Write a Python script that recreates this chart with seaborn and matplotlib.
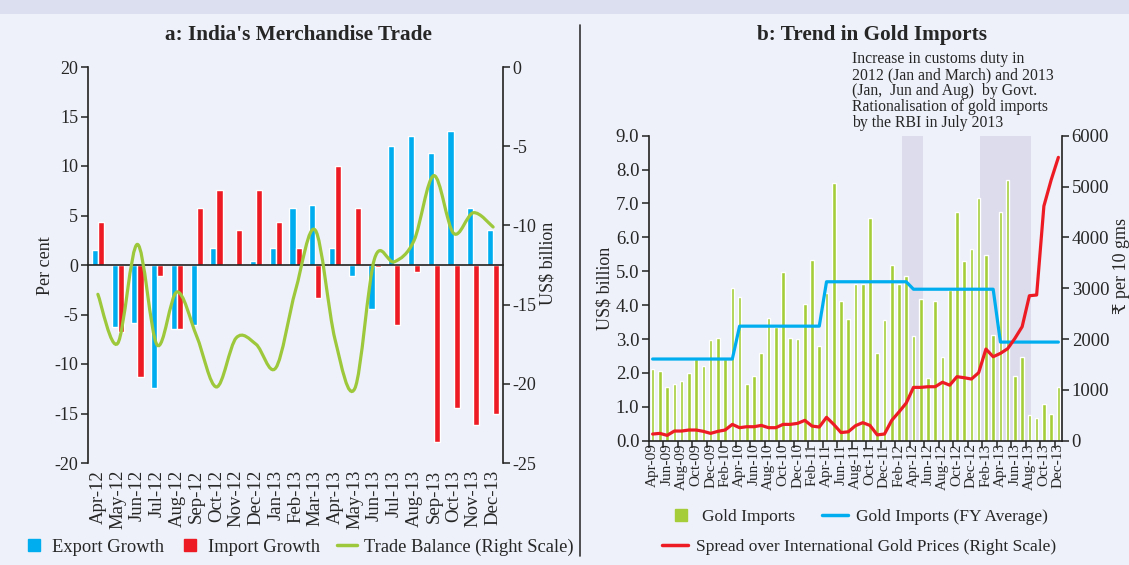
import numpy as np
import pandas as pd
import matplotlib
matplotlib.use("Agg")
import matplotlib.pyplot as plt
import seaborn as sns
from matplotlib.path import Path
from matplotlib.patches import PathPatch, Rectangle
from matplotlib.lines import Line2D

# Panel a: India's merchandise trade (growth in per cent, balance in US$ billion)
trade_months = ["Apr-12", "May-12", "Jun-12", "Jul-12", "Aug-12", "Sep-12", "Oct-12",
                "Nov-12", "Dec-12", "Jan-13", "Feb-13", "Mar-13", "Apr-13", "May-13",
                "Jun-13", "Jul-13", "Aug-13", "Sep-13", "Oct-13", "Nov-13", "Dec-13"]
export_growth = [1.5, -6.3, -5.9, -12.4, -6.5, -6.1, 1.7, 0.0, 0.4, 1.7, 5.8, 6.1,
                 1.7, -1.1, -4.4, 12.0, 13.05, 11.3, 13.5, 5.8, 3.5]
import_growth = [4.3, -6.8, -11.3, -1.1, -6.5, 5.8, 7.6, 3.5, 7.6, 4.3, 1.7, -3.3,
                 10.0, 5.8, -0.2, -6.1, -0.7, -17.9, -14.4, -16.2, -15.1]
trade_balance = [-14.35, -17.45, -11.2, -17.55, -14.2, -17.0, -20.2, -17.1, -17.5,
                 -19.0, -14.1, -10.3, -17.2, -20.3, -12.1, -12.3, -10.95, -6.86,
                 -10.5, -9.2, -10.1]

# Panel b: gold imports (US$ billion) and domestic spread (Rs per 10 gms)
gold_months = ["Apr-09", "May-09", "Jun-09", "Jul-09", "Aug-09", "Sep-09", "Oct-09", "Nov-09",
               "Dec-09", "Jan-10", "Feb-10", "Mar-10", "Apr-10", "May-10", "Jun-10", "Jul-10",
               "Aug-10", "Sep-10", "Oct-10", "Nov-10", "Dec-10", "Jan-11", "Feb-11", "Mar-11",
               "Apr-11", "May-11", "Jun-11", "Jul-11", "Aug-11", "Sep-11", "Oct-11", "Nov-11",
               "Dec-11", "Jan-12", "Feb-12", "Mar-12", "Apr-12", "May-12", "Jun-12", "Jul-12",
               "Aug-12", "Sep-12", "Oct-12", "Nov-12", "Dec-12", "Jan-13", "Feb-13", "Mar-13",
               "Apr-13", "May-13", "Jun-13", "Jul-13", "Aug-13", "Sep-13", "Oct-13", "Nov-13",
               "Dec-13"]
gold_imports = [2.13, 2.06, 1.59, 1.66, 1.75, 2.00, 2.40, 2.19, 2.97, 3.04, 2.40, 4.50,
                4.23, 1.66, 1.91, 2.60, 3.63, 3.36, 4.98, 3.03, 3.00, 4.04, 5.32, 2.78,
                4.35, 7.61, 4.13, 3.59, 4.63, 4.63, 6.57, 2.60, 3.56, 5.19, 4.63, 4.86,
                3.09, 4.18, 1.85, 4.12, 2.47, 4.44, 6.75, 5.31, 5.66, 7.16, 5.48, 3.12,
                6.75, 7.69, 1.91, 2.47, 0.75, 0.66, 1.09, 0.79, 1.59]
gold_fy_avg = ([2.41] * 12 + [3.38] * 12 + [4.69] * 12 + [4.47] * 12 + [2.91] * 9)
gold_spread = [131, 144, 105, 190, 190, 210, 210, 184, 144, 184, 210, 321,
               256, 275, 275, 301, 256, 256, 321, 321, 341, 400, 288, 269,
               460, 320, 160, 175, 295, 355, 300, 115, 131, 400, 565, 740,
               1049, 1049, 1062, 1062, 1150, 1092, 1259, 1239, 1213, 1338, 1803, 1652,
               1718, 1810, 2013, 2243, 2852, 2866, 4616, 5128, 5574]
# policy periods (shaded), in month positions
policy_spans = [(34.4, 37.3), (45.2, 52.2)]

BLUE = "#00aeef"
RED = "#ed1c24"
GREEN = "#a4cd39"
BG = "#eef1f9"

sns.set_theme(style="white")
plt.rcParams["font.family"] = ["Liberation Serif", "DejaVu Serif", "DejaVu Sans"]
plt.rcParams["axes.unicode_minus"] = False
plt.rcParams["axes.facecolor"] = BG
plt.rcParams["figure.facecolor"] = BG

fig = plt.figure(figsize=(11.29, 5.65), dpi=100)
W, H = 1129, 565


def fig_ax(l, t, r, b):
    return fig.add_axes([l / W, 1 - b / H, (r - l) / W, (b - t) / H])


def style_spines(a, width=1.2):
    for s in a.spines.values():
        s.set_color("#222222")
        s.set_linewidth(width)


# ---------------- panel a ----------------
ax = fig_ax(88, 67, 503, 463)
df_a = pd.DataFrame({
    "month": trade_months * 2,
    "series": ["Export Growth"] * len(trade_months) + ["Import Growth"] * len(trade_months),
    "value": export_growth + import_growth,
})
sns.barplot(data=df_a, x="month", y="value", hue="series", order=trade_months,
            palette={"Export Growth": BLUE, "Import Growth": RED},
            width=0.62, saturation=1, legend=False, ax=ax)
n_a = len(trade_months)
ax.set_xlim(-0.5, n_a - 0.5)
ax.set_ylim(-20, 20)
ax.set_yticks(np.arange(-20, 21, 5))
ax.set_xlabel("")
ax.set_ylabel("")
style_spines(ax)
ax.spines["top"].set_visible(False)
ax.spines["right"].set_visible(False)
ax.spines["bottom"].set_position(("data", 0))
ax.set_xticks(np.arange(n_a))
ax.set_xticks(np.arange(n_a - 1) + 0.5, minor=True)
ax.tick_params(axis="x", which="major", length=0, labelbottom=False)
ax.tick_params(axis="x", which="minor", length=5, width=1.1, direction="out", color="#222222")
ax.tick_params(axis="y", length=5, width=1.1, direction="out", left=True, labelsize=13,
               pad=2, color="#222222")

sec = ax.secondary_xaxis(0.0)
sec.set_xticks(np.arange(n_a), labels=trade_months, rotation=90)
sec.tick_params(length=0, labelsize=13.5, pad=5)
sec.spines["bottom"].set_visible(False)

ax2 = ax.twinx()
ax2.set_ylim(-25, 0)
ax2.set_yticks(np.arange(-25, 1, 5))
style_spines(ax2)
for s in ["top", "bottom", "left"]:
    ax2.spines[s].set_visible(False)
ax2.tick_params(axis="y", length=5, width=1.1, direction="out", right=True, labelsize=13,
                pad=2, color="#222222")

# smoothed trade balance line (cubic Bezier through the monthly points)
xs = np.arange(n_a, dtype=float)
ys = np.array(trade_balance, dtype=float)
verts = [(xs[0], ys[0])]
codes = [Path.MOVETO]
for i in range(n_a - 1):
    p0 = i - 1 if i > 0 else i
    p3 = i + 2 if i + 2 < n_a else i + 1
    c1 = (xs[i] + (xs[i + 1] - xs[p0]) / 6, ys[i] + (ys[i + 1] - ys[p0]) / 6)
    c2 = (xs[i + 1] - (xs[p3] - xs[i]) / 6, ys[i + 1] - (ys[p3] - ys[i]) / 6)
    verts += [c1, c2, (xs[i + 1], ys[i + 1])]
    codes += [Path.CURVE4] * 3
ax2.add_patch(PathPatch(Path(verts, codes), fill=False, edgecolor="#9dc83b", lw=2.3,
                        capstyle="round"))
ax2.set_xlim(-0.5, n_a - 0.5)

# ---------------- panel b ----------------
ax3 = fig_ax(649, 135.7, 1062, 440.7)
n_b = len(gold_months)
pos_b = np.arange(n_b)
for a0, a1 in policy_spans:
    ax3.axvspan(a0, a1, color="#dcdcec", zorder=0, lw=0)
df_b = pd.DataFrame({"month": gold_months, "gold": gold_imports, "fy": gold_fy_avg,
                     "spread": gold_spread, "pos": pos_b})
sns.barplot(data=df_b, x="month", y="gold", order=gold_months, color=GREEN,
            saturation=1, width=0.5, ax=ax3, zorder=2)
sns.lineplot(data=df_b, x="pos", y="fy", color=BLUE, lw=2.3, ax=ax3, zorder=3)
ax3.set_ylim(0, 9)
ax3.set_yticks(np.arange(0, 9.1, 1))
ax3.set_yticklabels([f"{v:.1f}" for v in np.arange(0, 9.1, 1)])
ax3.set_xlabel("")
ax3.set_ylabel("")
style_spines(ax3)
ax3.spines["top"].set_visible(False)
ax3.spines["right"].set_visible(False)
ax3.set_xticks(pos_b[::2], labels=gold_months[::2], rotation=90)
ax3.set_xticks(np.arange(-0.5, n_b - 1, 2), minor=True)
ax3.tick_params(axis="x", which="major", length=0, labelsize=11, pad=2)
ax3.tick_params(axis="x", which="minor", length=5, width=1.1, direction="out",
                bottom=True, color="#222222")
ax3.tick_params(axis="y", length=5, width=1.1, direction="out", left=True,
                labelsize=13.5, pad=2, color="#222222")

ax4 = ax3.twinx()
sns.lineplot(data=df_b, x="pos", y="spread", color=RED, lw=2.3, ax=ax4)
ax4.set_ylim(0, 6000)
ax4.set_yticks(np.arange(0, 6001, 1000))
ax4.set_ylabel("")
style_spines(ax4)
for s in ["top", "bottom", "left"]:
    ax4.spines[s].set_visible(False)
ax4.tick_params(axis="y", length=5, width=1.1, direction="out", right=True,
                labelsize=13.5, pad=2, color="#222222")
ax3.set_xlim(-0.5, n_b - 0.5)

# ---------------- texts and decorations ----------------
fig.add_artist(Rectangle((0, 1 - 14 / H), 1, 14 / H, transform=fig.transFigure,
                         color="#dcdff0", lw=0))
fig.add_artist(Line2D([580 / W, 580 / W], [1 - 25 / H, 1 - 556 / H],
                      transform=fig.transFigure, color="#333333", lw=1.2))

fig.text(298 / W, 1 - 35 / H, "a: India's Merchandise Trade", ha="center", va="center",
         fontsize=15.3, fontweight="bold")
fig.text(872 / W, 1 - 35 / H, "b: Trend in Gold Imports", ha="center", va="center",
         fontsize=15.3, fontweight="bold")
fig.text(852 / W, 1 - 51 / H,
         "Increase in customs duty in\n2012 (Jan and March) and 2013\n"
         "(Jan,  Jun and Aug)  by Govt.\nRationalisation of gold imports\n"
         "by the RBI in July 2013",
         ha="left", va="top", fontsize=11.3, linespacing=1.0)

fig.text(45 / W, 1 - 266 / H, "Per cent", rotation=90, ha="center", va="center", fontsize=13)
fig.text(548 / W, 1 - 263 / H, "US$ billion", rotation=90, ha="center", va="center", fontsize=13)
fig.text(605 / W, 1 - 288 / H, "US$ billion", rotation=90, ha="center", va="center", fontsize=13)
fig.text(1122 / W, 1 - 266 / H, "₹ per 10 gms", rotation=90, ha="center", va="center",
         fontsize=13)

# legends
h_a = [Line2D([], [], marker="s", ls="none", color=BLUE, markersize=9),
       Line2D([], [], marker="s", ls="none", color=RED, markersize=9),
       Line2D([], [], color="#9dc83b", lw=2.5)]
fig.legend(h_a, ["Export Growth", "Import Growth", "Trade Balance (Right Scale)"],
           loc="center", bbox_to_anchor=(299 / W, 1 - 547 / H), ncol=3, frameon=False,
           fontsize=13.3, handlelength=1.1, handletextpad=0.4, columnspacing=0.9)
h_b1 = [Line2D([], [], marker="s", ls="none", color=GREEN, markersize=9),
        Line2D([], [], color=BLUE, lw=2.5)]
fig.legend(h_b1, ["Gold Imports", "Gold Imports (FY Average)"], loc="center",
           bbox_to_anchor=(858 / W, 1 - 517 / H), ncol=2, frameon=False, fontsize=12.5,
           handlelength=1.5, handletextpad=0.5, columnspacing=1.5)
fig.legend([Line2D([], [], color=RED, lw=2.5)],
           ["Spread over International Gold Prices (Right Scale)"], loc="center",
           bbox_to_anchor=(859 / W, 1 - 547 / H), frameon=False, fontsize=12.5,
           handlelength=1.5, handletextpad=0.5)

fig.savefig("out.png", dpi=100, facecolor=BG)
